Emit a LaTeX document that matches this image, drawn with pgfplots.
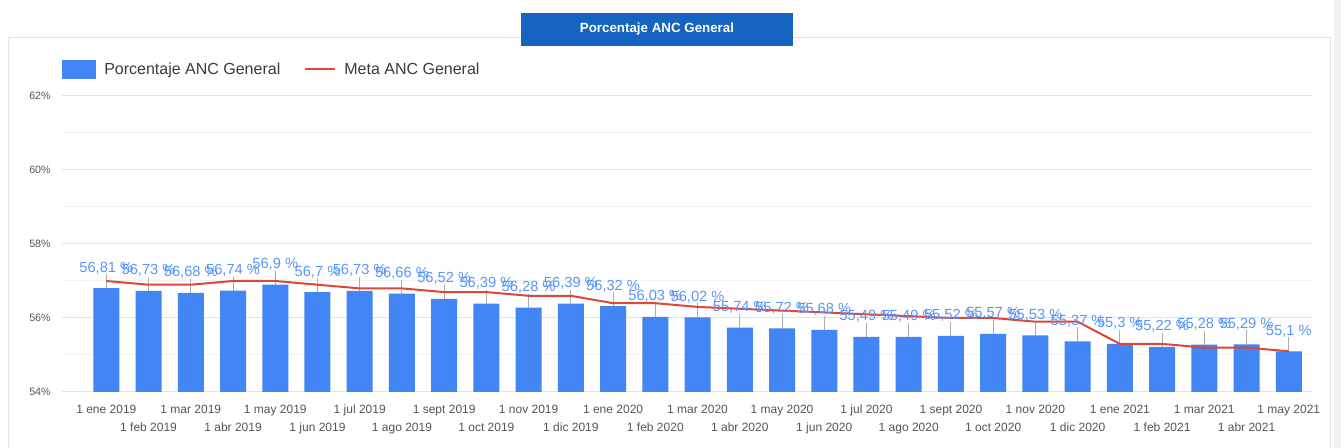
\documentclass[border=0pt]{standalone}
\usepackage{fontspec}
\setmainfont{Liberation Sans}
\usepackage{pgfplots}
\usepackage{pgfplotstable}
\pgfplotsset{compat=1.18}

\definecolor{barblue}{HTML}{4285F4}
\definecolor{lblblue}{HTML}{5A95F5}
\definecolor{metared}{HTML}{DE4638}
\definecolor{titleblue}{HTML}{1565C0}
\definecolor{ticktext}{HTML}{555555}

% x = month index (0 = 1 ene 2019), y = Porcentaje ANC General, meta = Meta ANC General
\pgfplotstableread{
x  y      meta
0  56.81  57.00
1  56.73  56.90
2  56.68  56.90
3  56.74  57.00
4  56.90  57.00
5  56.70  56.90
6  56.73  56.80
7  56.66  56.80
8  56.52  56.70
9  56.39  56.70
10 56.28  56.60
11 56.39  56.60
12 56.32  56.40
13 56.03  56.40
14 56.02  56.30
15 55.74  56.25
16 55.72  56.20
17 55.68  56.15
18 55.49  56.10
19 55.49  56.05
20 55.52  56.00
21 55.57  56.00
22 55.53  55.90
23 55.37  55.90
24 55.30  55.30
25 55.22  55.30
26 55.28  55.20
27 55.29  55.20
28 55.10  55.10
}\datatable

\begin{document}
\begin{tikzpicture}
% 1 px of the reference = 0.75pt
\useasboundingbox (0pt,0pt) rectangle (1005.75pt,336pt);
% card
\draw[gray!22, fill=white] (6pt,-8pt) rectangle (997.5pt,308.25pt);
\fill[gray!10] (1000.5pt,0pt) rectangle (1005.75pt,336pt);

\begin{axis}[
  at={(46.5pt,42pt)}, anchor=south west, scale only axis,
  width=937.5pt, height=222pt,
  xmin=-1.05, xmax=28.55, ymin=54, ymax=62,
  /pgf/number format/assume math mode=true,
  ytick={54,56,58,60,62}, minor ytick={55,57,59,61},
  ymajorgrids, yminorgrids,
  major grid style={gray!22, line width=0.75pt},
  minor grid style={gray!12, line width=0.75pt},
  axis line style={draw=none},
  major tick length=0pt, minor tick length=0pt,
  yticklabel={\pgfmathprintnumber{\tick}\%},
  yticklabel style={font=\fontsize{8}{9.6}\selectfont, text=ticktext, xshift=-5pt},
  xtick={0,2,...,28},
  xticklabels={1 ene 2019, 1 mar 2019, 1 may 2019, 1 jul 2019, 1 sept 2019, 1 nov 2019,
    1 ene 2020, 1 mar 2020, 1 may 2020, 1 jul 2020, 1 sept 2020, 1 nov 2020,
    1 ene 2021, 1 mar 2021, 1 may 2021},
  extra x ticks={1,3,...,27},
  extra x tick labels={1 feb 2019, 1 abr 2019, 1 jun 2019, 1 ago 2019, 1 oct 2019, 1 dic 2019,
    1 feb 2020, 1 abr 2020, 1 jun 2020, 1 ago 2020, 1 oct 2020, 1 dic 2020,
    1 feb 2021, 1 abr 2021},
  extra x tick style={xticklabel style={yshift=-13.5pt}},
  xticklabel style={font=\fontsize{9}{10.8}\selectfont, text=ticktext,
    text height=7pt, text depth=2pt, yshift=-5.5pt},
  legend style={at={(0,1.09)}, anchor=west, draw=none, fill=none, inner sep=0pt,
    font=\fontsize{12}{14}\selectfont, text=ticktext!70!black,
    /tikz/every odd column/.append style={column sep=4pt},
    /tikz/every even column/.append style={column sep=16pt}},
  legend columns=2, legend cell align=left,
]
\addplot[ybar, bar width=19.5pt, fill=barblue, draw=none,
  legend image code/.code={\fill[barblue] (0pt,-7pt) rectangle (25.5pt,7pt);},
  error bars/.cd, y dir=plus, y fixed=0.38, error mark=none,
  error bar style={gray!65, line width=0.75pt}]
  table[x=x, y=y] {\datatable};
\addlegendentry{Porcentaje ANC General}

\addplot[metared, line width=1.5pt, mark=none,
  legend image code/.code={\draw[metared, line width=1.5pt] (0pt,0pt) -- (22.5pt,0pt);}]
  table[x=x, y=meta] {\datatable};
\addlegendentry{Meta ANC General}

% value labels drawn last, above the line
\addplot[draw=none, mark=none, forget plot,
  nodes near coords={\pgfmathprintnumber[use comma, fixed, precision=2]{\pgfplotspointmeta}\ \%},
  nodes near coords align={anchor=base},
  every node near coord/.append style={anchor=base, yshift=12pt, inner sep=0pt,
    text=lblblue, font=\fontsize{11}{13}\selectfont}]
  table[x=x, y=y] {\datatable};
\end{axis}

% title box
\node[fill=titleblue, text=white, font=\bfseries\fontsize{10}{12}\selectfont,
  minimum width=204pt, minimum height=24.75pt, inner sep=0pt] at (492.75pt,313.9pt) {Porcentaje ANC General};
\end{tikzpicture}
\end{document}
